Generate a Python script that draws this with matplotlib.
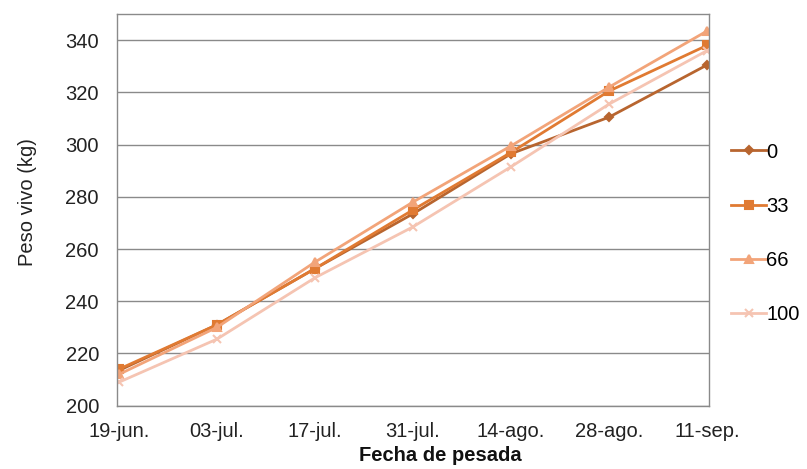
import matplotlib.pyplot as plt
import numpy as np

plt.rcParams['font.family'] = ['Liberation Sans', 'DejaVu Sans']

# Fechas de pesada y peso vivo medio por tratamiento
fechas = ['19-jun.', '03-jul.', '17-jul.', '31-jul.', '14-ago.', '28-ago.', '11-sep.']
tratamientos = ['0', '33', '66', '100']
peso_0 = [213.5, 231, 252.5, 273.5, 296.5, 310.5, 330.5]
peso_33 = [214, 231, 252.5, 275, 297, 320.5, 338]
peso_66 = [212, 230, 255, 278, 299.5, 322, 343.5]
peso_100 = [209, 225.5, 249, 268.5, 291.5, 315.5, 336]

series = [peso_0, peso_33, peso_66, peso_100]
colores = ['#B8652F', '#E07A32', '#F2A479', '#F5C4B2']
marcadores = ['D', 's', '^', 'x']
tam = [4, 5.5, 6, 6]

fig = plt.figure(figsize=(8.07, 4.69), dpi=100)
ax = fig.add_axes([0.145, 0.135, 0.7335, 0.835])

x = np.arange(len(fechas))
for s, lab, col, m, ms in zip(series, tratamientos, colores, marcadores, tam):
    ax.plot(x, s, color=col, lw=2, marker=m, ms=ms, mew=1.5, label=lab)

ax.set_xlim(-0.02, 6.02)
ax.set_ylim(200, 350)
ax.set_yticks(np.arange(200, 341, 20))
ax.set_xticks(x, labels=fechas)
ax.tick_params(length=0, labelsize=14.5, colors='#222222')
ax.tick_params(axis='y', pad=13)
ax.tick_params(axis='x', pad=12)

ax.grid(axis='y', color='#8a8a8a', lw=1)
ax.set_axisbelow(True)
for sp in ax.spines.values():
    sp.set_color('#8a8a8a')
    sp.set_linewidth(1)

ax.set_ylabel('Peso vivo (kg)', fontsize=14.5, color='#222222')
ax.yaxis.set_label_coords(-0.135, 0.52)
ax.set_xlabel('Fecha de pesada', fontsize=14.5, fontweight='bold', color='#111111')
ax.xaxis.set_label_coords(0.546, -0.104)

ax.legend(loc='center left', bbox_to_anchor=(1.0, 0.44), frameon=False,
          fontsize=14.5, handlelength=1.75, handletextpad=0.0,
          labelspacing=1.75, borderaxespad=0.7)

fig.savefig('out.png', dpi=100)
